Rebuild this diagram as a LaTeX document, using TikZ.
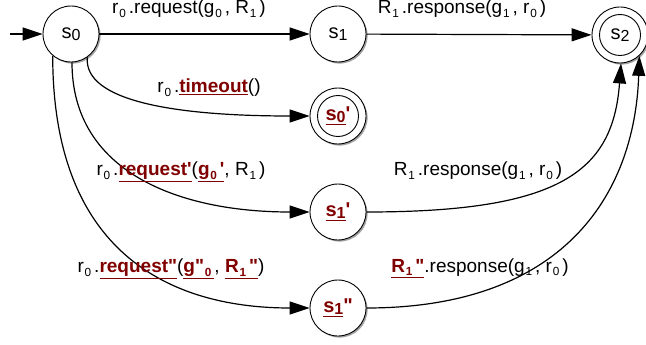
\documentclass[tikz,border=0pt]{standalone}
\usepackage{fontspec}
\usepackage{graphicx}
\newfontfamily\lab{Liberation Sans}
\usetikzlibrary{arrows.meta,shadows}
\definecolor{dred}{RGB}{128,0,0}
\newcommand\lo[1]{\kern0.8pt\raisebox{-0.35ex}{\scalebox{0.62}{#1}}\kern3pt}
\newcommand\nlo[1]{\raisebox{-0.2ex}{\scalebox{0.8}{#1}}}
\newcommand\hl[1]{\textcolor{dred}{\underline{\textbf{#1}}}}
\tikzset{
  state/.style={circle, draw, line width=0.9pt, minimum size=56pt, inner sep=0pt,
    fill=white, drop shadow={shadow xshift=1.6pt, shadow yshift=-1.6pt, fill=black!45, opacity=0.8},
    font=\lab\fontsize{20}{24}\selectfont},
  lbl/.style={font=\lab\fontsize{19}{22}\selectfont, inner sep=0pt},
  edge/.style={line width=1.2pt, -{Triangle[length=20pt,width=13pt]}},
  inner/.style={line width=0.9pt}
}
\begin{document}
\begin{tikzpicture}[x=1pt,y=-1pt]
\useasboundingbox (0,0) rectangle (646,345);
\node[state] (s0) at (71,34) {s\nlo{0}};
\node[state] (s1) at (338,34) {s\nlo{1}};
\node[state] (s2) at (620,35) {s\nlo{2}};
\draw[inner] (s2.center) circle[radius=20.5pt];
\node[state] (s0p) at (338,116) {\hl{s\nlo{0}}\textcolor{dred}{\textbf{'}}};
\draw[inner] (s0p.center) circle[radius=20.5pt];
\node[state] (s1p) at (338,212) {\hl{s\nlo{1}}\textcolor{dred}{\textbf{'}}};
\node[state] (s1pp) at (338,308) {\hl{s\nlo{1}}\textcolor{dred}{\textbf{"}}};
\coordinate (init) at (10,34);

\draw[edge] (init) -- (s0);
\draw[edge] (s0) -- (s1);
\draw[edge] (s1) -- (s2);
\draw[edge] (s0.-55) .. controls +(95:45) and +(-130,0) .. (s0p.west);
\draw[edge] (s0.-88) .. controls +(0,110) and +(-130,0) .. (s1p.west);
\draw[edge] (s0.-130) .. controls +(0,205) and +(-130,0) .. (s1pp.west);
\draw[edge] (s1p.east) .. controls +(194,0) and +(-8,108) .. (s2.-88);
\draw[edge] (s1pp.east) .. controls +(194,0) and +(-5,142) .. (s2.-47);

\node[lbl] (l1) at (189,9) {r\lo{0}.request(g\lo{0}, R\lo{1})};
\node[lbl] (l2) at (462,9) {R\lo{1}.response(g\lo{1}, r\lo{0})};
\node[lbl] (l3) at (209,88) {r\lo{0}.\hl{timeout}()};
\node[lbl] (l4) at (181,172) {r\lo{0}.\hl{request'}(\hl{g\lo{0}'}, R\lo{1})};
\node[lbl] (l5) at (478,171) {R\lo{1}.response(g\lo{1}, r\lo{0})};
\node[lbl] (l6) at (171,269) {r\lo{0}.\hl{request"}(\hl{g"\lo{0}}, \hl{R\lo{1}"})};
\node[lbl] (l7) at (480,268) {\hl{R\lo{1}"}.response(g\lo{1}, r\lo{0})};
\end{tikzpicture}
\end{document}
